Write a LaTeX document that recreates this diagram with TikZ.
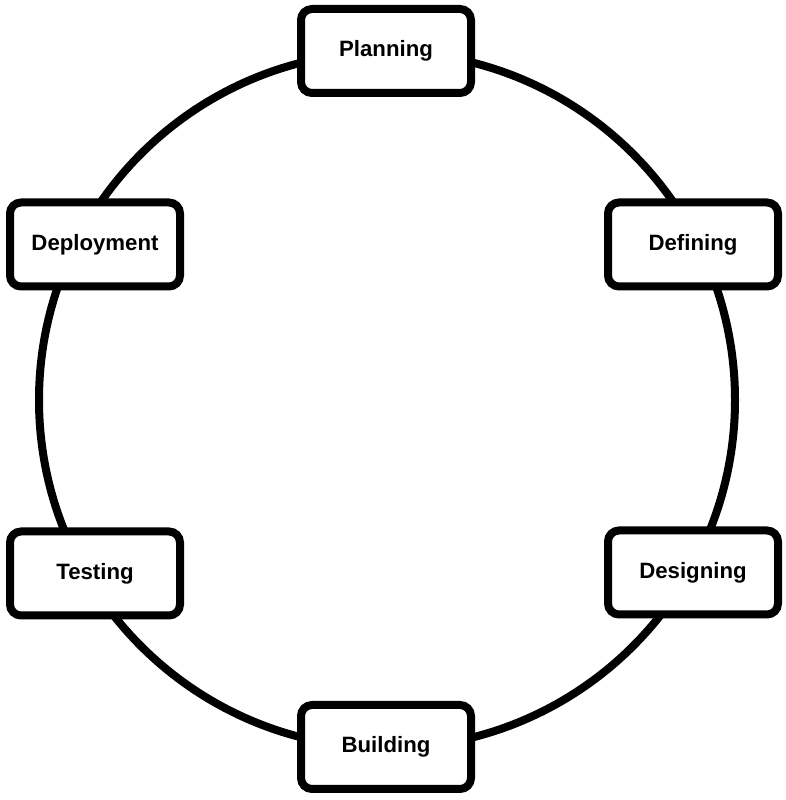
\documentclass[tikz,border=0pt]{standalone}
\usepackage{fontspec}
\setmainfont{Liberation Sans}
\tikzset{phase/.style={draw=black,line width=8pt,rounded corners=11pt,fill=white,
    minimum width=170pt,minimum height=84pt,inner sep=0pt,
    font=\bfseries\fontsize{22.2}{26}\selectfont}}
\tikzset{cycle/.style={draw=black,line width=8pt}}
\begin{document}
\begin{tikzpicture}[x=1pt,y=1pt]
    \useasboundingbox (0,0) rectangle (786,800);
    \pgfmathsetmacro{\rad}{348}
    \coordinate (c) at (387,400);
    \draw[cycle] (c) circle[radius=\rad];
    % the six phases
    \node[phase] (plan)   at (386,749)   {Planning};
    \node[phase] (define) at (693,555.5) {Defining};
    \node[phase] (design) at (693,227.5) {Designing};
    \node[phase] (build)  at (386,53)    {Building};
    \node[phase] (test)   at (95,226.5)  {Testing};
    \node[phase] (deploy) at (95,555.5)  {Deployment};
  \end{tikzpicture}
\end{document}
